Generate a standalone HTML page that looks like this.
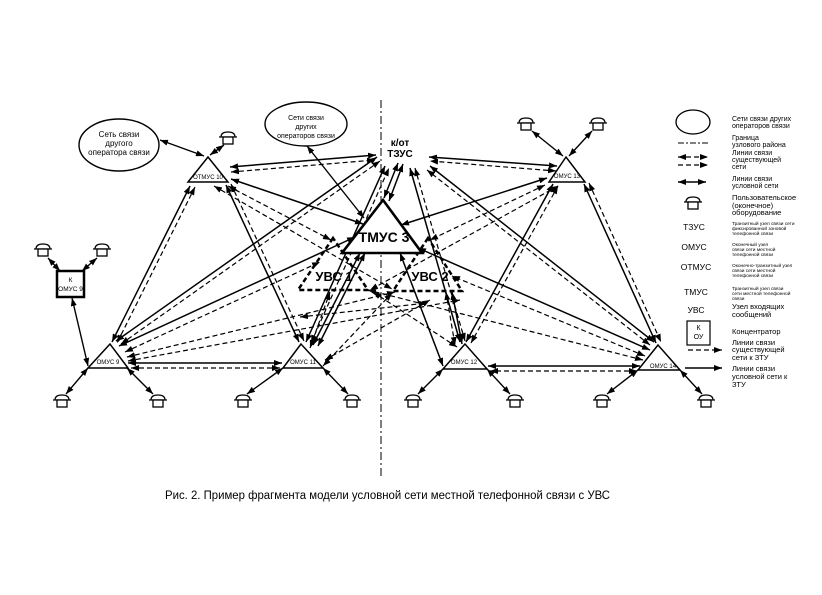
<!DOCTYPE html>
<html><head><meta charset="utf-8"><style>
html,body{margin:0;padding:0;background:#fff;}
svg{display:block;}
text{font-family:"Liberation Sans",Arial,sans-serif;fill:#000;}
.s{stroke:#000;stroke-width:1.5;fill:none;}
.d{stroke:#000;stroke-width:1.2;stroke-dasharray:5 3;fill:none;}
.b{stroke:#000;stroke-width:1.4;fill:none;}
</style></head><body>
<svg width="822" height="595" viewBox="0 0 822 595" xmlns="http://www.w3.org/2000/svg">
<defs>
<marker id="a" markerUnits="userSpaceOnUse" markerWidth="8" markerHeight="6" refX="8" refY="3" orient="auto-start-reverse" viewBox="0 0 8 6"><path d="M0,0L8,3L0,6z" fill="#000"/></marker>
<g id="ph"><path d="M-7,-1 Q-7,-6 0,-6 Q7,-6 7,-1" fill="#fff" stroke="#000" stroke-width="1.3"/><line x1="-9" y1="-1" x2="9" y2="-1" stroke="#000" stroke-width="1.3"/><rect x="-5" y="-1" width="10" height="7" fill="#fff" stroke="#000" stroke-width="1.3"/></g>
</defs>
<rect width="822" height="595" fill="#fff"/>

<line x1="381" y1="100" x2="381" y2="478" stroke="#000" stroke-width="1" stroke-dasharray="8 3 2 3"/>

<g marker-start="url(#a)" marker-end="url(#a)">
<line class="s" x1="230" y1="167" x2="376" y2="155"/>
<line class="d" x1="231" y1="172" x2="375" y2="160"/>
<line class="s" x1="231" y1="179" x2="363" y2="224"/>
<line class="d" x1="228" y1="186" x2="331" y2="240"/>
<line class="d" x1="214" y1="186" x2="392" y2="289"/>
<line class="s" x1="190" y1="186" x2="112" y2="342"/>
<line class="d" x1="195" y1="187" x2="117" y2="343"/>
<line class="s" x1="226" y1="185" x2="299" y2="342"/>
<line class="d" x1="231" y1="184" x2="304" y2="341"/>
<line class="s" x1="116" y1="341" x2="377" y2="157"/>
<line class="d" x1="121" y1="344" x2="380" y2="161"/>
<line class="s" x1="119" y1="346" x2="355" y2="237"/>
<line class="d" x1="125" y1="352" x2="320" y2="262"/>
<line class="d" x1="127" y1="357" x2="395" y2="292"/>
<line class="d" x1="128" y1="361" x2="460" y2="300"/>
<line class="s" x1="128" y1="363" x2="282" y2="363"/>
<line class="d" x1="131" y1="368" x2="280" y2="368"/>
<line class="s" x1="306" y1="342" x2="385" y2="166"/>
<line class="d" x1="311" y1="343" x2="389" y2="168"/>
<line class="s" x1="313" y1="345" x2="360" y2="253"/>
<line class="s" x1="318" y1="346" x2="365" y2="253"/>
<line class="d" x1="310" y1="348" x2="330" y2="292"/>
<line class="d" x1="323" y1="366" x2="392" y2="293"/>
<line class="d" x1="325" y1="360" x2="430" y2="300"/>
<line class="s" x1="557" y1="166" x2="429" y2="157"/>
<line class="d" x1="556" y1="171" x2="430" y2="161"/>
<line class="s" x1="547" y1="178" x2="401" y2="225"/>
<line class="d" x1="545" y1="185" x2="430" y2="240"/>
<line class="d" x1="558" y1="186" x2="370" y2="290"/>
<line class="s" x1="553" y1="184" x2="466" y2="342"/>
<line class="d" x1="558" y1="186" x2="471" y2="343"/>
<line class="s" x1="584" y1="184" x2="656" y2="343"/>
<line class="d" x1="589" y1="183" x2="661" y2="342"/>
<line class="s" x1="654" y1="342" x2="430" y2="166"/>
<line class="d" x1="650" y1="345" x2="427" y2="170"/>
<line class="s" x1="650" y1="350" x2="418" y2="248"/>
<line class="d" x1="645" y1="356" x2="452" y2="276"/>
<line class="d" x1="643" y1="360" x2="368" y2="290"/>
<line class="s" x1="640" y1="366" x2="488" y2="366"/>
<line class="d" x1="637" y1="371" x2="490" y2="371"/>
<line class="s" x1="460" y1="342" x2="410" y2="168"/>
<line class="d" x1="465" y1="341" x2="415" y2="168"/>
<line class="s" x1="443" y1="366" x2="400" y2="253"/>
<line class="s" x1="452" y1="292" x2="462" y2="344"/>
<line class="d" x1="446" y1="292" x2="455" y2="345"/>
<line class="d" x1="373" y1="292" x2="457" y2="347"/>
<line class="d" x1="300" y1="317" x2="427" y2="303"/>
<line class="s" x1="398" y1="163" x2="384" y2="198"/>
<line class="s" x1="403" y1="164" x2="389" y2="201"/>
<line class="b" x1="160" y1="140" x2="204" y2="156"/>
<line class="b" x1="307" y1="146" x2="364" y2="218"/>
<line class="b" x1="72" y1="298" x2="88" y2="366"/>
<line class="b" x1="210" y1="155" x2="224" y2="145"/>
<line class="b" x1="60" y1="271" x2="48" y2="258"/>
<line class="b" x1="82" y1="271" x2="97" y2="258"/>
<line class="b" x1="88" y1="368" x2="66" y2="394"/>
<line class="b" x1="127" y1="368" x2="153" y2="394"/>
<line class="b" x1="283" y1="368" x2="247" y2="394"/>
<line class="b" x1="323" y1="368" x2="348" y2="394"/>
<line class="b" x1="443" y1="369" x2="418" y2="394"/>
<line class="b" x1="487" y1="369" x2="510" y2="394"/>
<line class="b" x1="638" y1="370" x2="607" y2="394"/>
<line class="b" x1="680" y1="370" x2="702" y2="394"/>
<line class="b" x1="563" y1="156" x2="532" y2="131"/>
<line class="b" x1="569" y1="156" x2="592" y2="131"/>
</g>

<use href="#ph" x="228" y="138"/>
<use href="#ph" x="43" y="250"/>
<use href="#ph" x="102" y="250"/>
<use href="#ph" x="62" y="401"/>
<use href="#ph" x="158" y="401"/>
<use href="#ph" x="243" y="401"/>
<use href="#ph" x="352" y="401"/>
<use href="#ph" x="413" y="401"/>
<use href="#ph" x="515" y="401"/>
<use href="#ph" x="602" y="401"/>
<use href="#ph" x="706" y="401"/>
<use href="#ph" x="526" y="124"/>
<use href="#ph" x="598" y="124"/>

<ellipse cx="119" cy="145" rx="40" ry="26" fill="#fff" stroke="#000" stroke-width="1.4"/>
<text x="119" y="137" font-size="8" text-anchor="middle">Сеть связи</text>
<text x="119" y="146" font-size="8" text-anchor="middle">другого</text>
<text x="119" y="155" font-size="8" text-anchor="middle">оператора связи</text>
<ellipse cx="306" cy="124" rx="41" ry="22" fill="#fff" stroke="#000" stroke-width="1.4"/>
<text x="306" y="120" font-size="7" text-anchor="middle">Сети связи</text>
<text x="306" y="129" font-size="7" text-anchor="middle">других</text>
<text x="306" y="138" font-size="7" text-anchor="middle">операторов связи</text>

<text x="400" y="146" font-size="10" font-weight="bold" text-anchor="middle">к/от</text>
<text x="400" y="157" font-size="10" font-weight="bold" text-anchor="middle">ТЗУС</text>

<polygon points="208,157 188,182 228,182" fill="#fff" stroke="#000" stroke-width="1.5"/>
<text x="208" y="179" font-size="6" text-anchor="middle">ОТМУС 10</text>
<polygon points="110,344 88,368 128,368" fill="#fff" stroke="#000" stroke-width="1.5"/>
<text x="108" y="364" font-size="6" text-anchor="middle">ОМУС 9</text>
<polygon points="301,344 283,368 323,368" fill="#fff" stroke="#000" stroke-width="1.5"/>
<text x="303" y="364" font-size="6" text-anchor="middle">ОМУС 11</text>
<polygon points="465,344 443,369 487,369" fill="#fff" stroke="#000" stroke-width="1.5"/>
<text x="464" y="364" font-size="6" text-anchor="middle">ОМУС 12</text>
<polygon points="658,345 638,370 680,370" fill="#fff" stroke="#000" stroke-width="1.5"/>
<text x="663" y="368" font-size="6" text-anchor="middle">ОМУС 14</text>
<polygon points="566,157 549,182 585,182" fill="#fff" stroke="#000" stroke-width="1.5"/>
<text x="567" y="178" font-size="6" text-anchor="middle">ОМУС 13</text>

<rect x="57" y="271" width="27" height="26" fill="#fff" stroke="#000" stroke-width="2.5"/>
<text x="70.5" y="282" font-size="6.5" text-anchor="middle">К</text>
<text x="70.5" y="291" font-size="6.5" text-anchor="middle">ОМУС 9</text>

<polygon points="333,238 298,290 368,290" fill="none" stroke="#000" stroke-width="2.5" stroke-dasharray="5 3"/>
<text x="334" y="281" font-size="13" font-weight="bold" text-anchor="middle">УВС 1</text>
<polygon points="428,238 393,291 462,291" fill="none" stroke="#000" stroke-width="2.5" stroke-dasharray="5 3"/>
<text x="430" y="281" font-size="13" font-weight="bold" text-anchor="middle">УВС 2</text>

<polygon points="383,200 342,253 422,253" fill="#fff" stroke="#000" stroke-width="2.6"/>
<text x="384" y="242" font-size="14" font-weight="bold" text-anchor="middle">ТМУС 3</text>

<ellipse cx="693" cy="122" rx="17" ry="12" fill="#fff" stroke="#000" stroke-width="1.3"/>
<g font-size="7">
<text x="732" y="121">Сети связи других</text>
<text x="732" y="128">операторов связи</text>
<text x="732" y="140">Граница</text>
<text x="732" y="147">узлового района</text>
<text x="732" y="155">Линии связи</text>
<text x="732" y="162">существующей</text>
<text x="732" y="169">сети</text>
<text x="732" y="181">Линии связи</text>
<text x="732" y="188">условной сети</text>
<text x="732" y="200" font-size="7.5">Пользовательское</text>
<text x="732" y="208" font-size="7.5">(оконечное)</text>
<text x="732" y="215" font-size="7.5">оборудование</text>
<text x="732" y="309" font-size="7.5">Узел входящих</text>
<text x="732" y="317" font-size="7.5">сообщений</text>
<text x="732" y="334" font-size="7.5">Концентратор</text>
<text x="732" y="345" font-size="7.5">Линии связи</text>
<text x="732" y="352" font-size="7.5">существующей</text>
<text x="732" y="360" font-size="7.5">сети к ЗТУ</text>
<text x="732" y="371" font-size="7.5">Линии связи</text>
<text x="732" y="379" font-size="7.5">условной сети к</text>
<text x="732" y="387" font-size="7.5">ЗТУ</text>
</g>
<line x1="678" y1="143" x2="708" y2="143" stroke="#000" stroke-width="1" stroke-dasharray="6 2 2 2"/>
<line class="d" x1="678" y1="157" x2="708" y2="157" marker-start="url(#a)" marker-end="url(#a)" stroke-dasharray="4 3"/>
<line class="d" x1="678" y1="165" x2="708" y2="165" marker-end="url(#a)" stroke-dasharray="4 3"/>
<line class="b" x1="678" y1="182" x2="706" y2="182" marker-start="url(#a)" marker-end="url(#a)"/>
<use href="#ph" x="693" y="203"/>
<g font-size="8.5" text-anchor="middle">
<text x="694" y="230">ТЗУС</text>
<text x="694" y="250">ОМУС</text>
<text x="696" y="270">ОТМУС</text>
<text x="696" y="295">ТМУС</text>
<text x="696" y="313">УВС</text>
</g>
<g font-size="4.8">
<text x="732" y="225">Транзитный узел связи сети</text>
<text x="732" y="230">фиксированной зоновой</text>
<text x="732" y="235">телефонной связи</text>
<text x="732" y="246">Оконечный узел</text>
<text x="732" y="251">связи сети местной</text>
<text x="732" y="256">телефонной связи</text>
<text x="732" y="267">Оконечно-транзитный узел</text>
<text x="732" y="272">связи сети местной</text>
<text x="732" y="277">телефонной связи</text>
<text x="732" y="290">Транзитный узел связи</text>
<text x="732" y="295">сети местной телефонной</text>
<text x="732" y="300">связи</text>
</g>
<rect x="687" y="321" width="23" height="24" fill="#fff" stroke="#000" stroke-width="1.2"/>
<text x="698.5" y="330" font-size="7" text-anchor="middle">К</text>
<text x="698.5" y="339" font-size="7" text-anchor="middle">ОУ</text>
<line class="d" x1="688" y1="350" x2="722" y2="350" marker-end="url(#a)" stroke-dasharray="4 3"/>
<line class="b" x1="685" y1="368" x2="722" y2="368" marker-end="url(#a)"/>

<text x="165" y="499" font-size="11.5" textLength="445" lengthAdjust="spacingAndGlyphs">Рис. 2. Пример фрагмента модели условной сети местной телефонной связи с УВС</text>
</svg>
</body></html>
